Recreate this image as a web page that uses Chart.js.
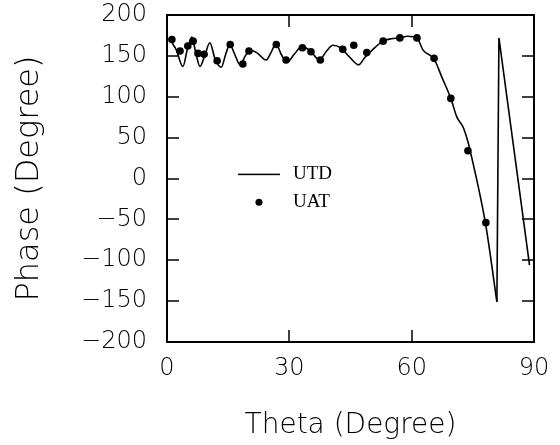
<!DOCTYPE html>
<html>
<head>
<meta charset="utf-8">
<script src="https://cdn.jsdelivr.net/npm/chart.js@4/dist/chart.umd.min.js"></script>
<style>
  html, body { margin: 0; padding: 0; background: #fff; }
  #wrap { width: 560px; height: 445px; position: relative; }
</style>
</head>
<body>
<div id="wrap"><canvas id="chart"></canvas></div>
<script>
// UTD curve, smooth part (theta in degrees, phase in degrees)
const utdTheta = [1.0, 2.3, 3.9, 5.0, 6.1, 7.0, 8.1, 9.3, 10.5, 11.8, 13.3, 14.4, 15.4, 16.6, 17.9,
  19.2, 20.3, 22.0, 24.3, 25.6, 26.7, 28.0, 29.4, 31.2, 33.0, 35.0, 37.4, 39.0, 40.7, 42.5,
  44.5, 47.0, 48.5, 50.5, 53.0, 55.0, 57.1, 59.0, 61.3, 62.8, 65.5, 67.4, 69.6, 71.1, 72.6,
  73.8, 74.3, 78.1, 80.9];
const utdPhase = [168, 157, 137, 158, 173, 155, 137, 151, 166, 146, 136, 152, 164, 152, 139,
  150, 157, 154, 145, 155, 165, 152, 142, 152, 161, 157, 145, 155, 163, 160,
  150, 139, 148, 158, 168, 171, 172, 174, 172, 157, 146, 124, 98, 75, 63,
  45, 35, -55, -151];
// UTD curve, phase wrap part (straight segments)
const utdWrapTheta = [80.9, 81.4, 88.9];
const utdWrapPhase = [-151, 172, -106];
// UAT points
const uatTheta = [1.2, 3.2, 5.1, 6.4, 7.6, 9.1, 12.3, 15.5, 18.6, 20.1, 26.8, 29.2, 33.2, 35.3,
  37.6, 43.1, 45.8, 49.0, 53.0, 57.1, 61.3, 65.5, 69.6, 73.8, 78.2];
const uatPhase = [170, 156, 162, 168, 153, 152, 144, 164, 140, 156, 164, 145, 160, 155,
  145, 158, 163, 154, 168, 172, 172, 147, 98, 34, -54];
const xTickValues = [0, 30, 60, 90];
const yTickValues = [-200, -150, -100, -50, 0, 50, 100, 150, 200];

const toPts = (xs, ys) => xs.map((v, i) => ({ x: v, y: ys[i] }));
const fmt = v => (v < 0 ? "\u2212" + Math.abs(v) : String(v));

// box around the plot, inward ticks and the little legend
const frame = {
  id: "frame",
  afterDraw(chart) {
    const { ctx, chartArea: a } = chart;
    const x = chart.scales.x, y = chart.scales.y;
    const w = 2, tl = 12;
    ctx.save();
    ctx.fillStyle = "#000";
    ctx.fillRect(a.left - 1, a.top - 1, a.right - a.left + 2, w);
    ctx.fillRect(a.left - 1, a.bottom - 1, a.right - a.left + 2, w);
    ctx.fillRect(a.left - 1, a.top - 1, w, a.bottom - a.top + 2);
    ctx.fillRect(a.right - 1, a.top - 1, w, a.bottom - a.top + 2);

    xTickValues.forEach(v => {
      if (v <= x.min || v >= x.max) return;
      const px = Math.round(x.getPixelForValue(v));
      ctx.fillRect(px - 0.75, a.bottom - tl, 1.5, tl);
      ctx.fillRect(px - 0.75, a.top, 1.5, tl);
    });
    yTickValues.forEach(v => {
      if (v <= y.min || v >= y.max) return;
      const py = Math.round(y.getPixelForValue(v));
      ctx.fillRect(a.left, py - 0.75, tl, 1.5);
      ctx.fillRect(a.right - tl, py - 0.75, tl, 1.5);
    });

    const ds = chart.data.datasets;
    const lx0 = x.getPixelForValue(17.4), lx1 = x.getPixelForValue(27.7);
    const tx = x.getPixelForValue(30.9);
    const ly1 = y.getPixelForValue(5), ly2 = y.getPixelForValue(-29);
    ctx.fillRect(lx0, ly1 - 0.75, lx1 - lx0, 1.5);
    ctx.beginPath();
    ctx.arc((lx0 + lx1) / 2, ly2, 3.5, 0, Math.PI * 2);
    ctx.fill();
    ctx.font = "19px 'Liberation Serif'";
    ctx.textBaseline = "middle";
    ctx.textAlign = "left";
    ctx.fillText(ds[0].label, tx, ly1);
    ctx.fillText(ds[2].label, tx, ly2);
    ctx.restore();
  }
};

const tickFont = { family: "DejaVu Sans", size: 24, weight: "200" };

new Chart(document.getElementById("chart"), {
  type: "scatter",
  data: {
    datasets: [
      {
        label: "UTD",
        data: toPts(utdTheta, utdPhase),
        showLine: true,
        borderColor: "#000",
        borderWidth: 1.6,
        pointRadius: 0,
        tension: 0.4,
        cubicInterpolationMode: "monotone"
      },
      {
        label: "UTD",
        data: toPts(utdWrapTheta, utdWrapPhase),
        showLine: true,
        borderColor: "#000",
        borderWidth: 1.6,
        pointRadius: 0,
        tension: 0
      },
      {
        label: "UAT",
        data: toPts(uatTheta, uatPhase),
        showLine: false,
        pointRadius: 3.8,
        backgroundColor: "#000",
        borderColor: "#000",
        borderWidth: 0
      }
    ]
  },
  options: {
    responsive: true,
    maintainAspectRatio: false,
    animation: false,
    layout: { padding: { top: 15, right: 26, left: 0, bottom: 0 } },
    plugins: {
      legend: { display: false },
      tooltip: { enabled: false }
    },
    scales: {
      x: {
        type: "linear",
        min: 0,
        max: 90,
        afterBuildTicks: s => { s.ticks = xTickValues.map(v => ({ value: v })); },
        afterFit: s => { s.height = 103; s.paddingLeft = 0; s.paddingRight = 0; },
        grid: { display: false, drawTicks: false },
        border: { display: false },
        ticks: { color: "#000", font: tickFont, padding: 12, maxRotation: 0 },
        title: {
          display: true,
          text: "Theta (Degree)",
          color: "#000",
          font: { family: "DejaVu Sans", size: 28, weight: "200" },
          padding: { top: 0, bottom: 2 }
        }
      },
      y: {
        type: "linear",
        min: -200,
        max: 200,
        afterBuildTicks: s => { s.ticks = yTickValues.map(v => ({ value: v })); },
        afterFit: s => { s.width = 167; s.paddingTop = 0; s.paddingBottom = 0; },
        grid: { display: false, drawTicks: false },
        border: { display: false },
        ticks: { color: "#000", font: tickFont, padding: 20, callback: v => fmt(v) },
        title: {
          display: true,
          text: "Phase (Degree)",
          color: "#000",
          font: { family: "DejaVu Sans", size: 32, weight: "200" },
          padding: { top: 10, bottom: 0 }
        }
      }
    }
  },
  plugins: [frame]
});
</script>
</body>
</html>
